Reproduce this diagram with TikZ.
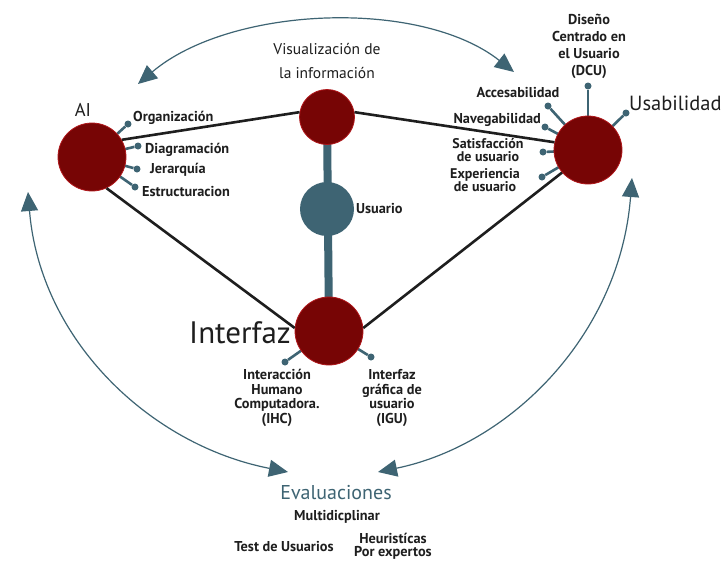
\documentclass[tikz,border=0pt]{standalone}
\usepackage{fontspec}
\setmainfont{PT Sans}
\usetikzlibrary{arrows.meta}
\definecolor{dred}{HTML}{770505}
\definecolor{redge}{HTML}{B0161A}
\definecolor{teal}{HTML}{3E6473}
\definecolor{ink}{HTML}{1E1E1E}
\tikzset{
  hub/.style={circle,fill=dred,draw=redge,line width=0.8pt,minimum size=#1,inner sep=0pt},
  userhub/.style={circle,fill=teal,minimum size=54pt,inner sep=0pt},
  pin/.style={circle,fill=teal,minimum size=7pt,inner sep=0pt},
  spoke/.style={teal,line width=2.6pt},
  link/.style={ink,line width=2.6pt},
  curvearrow/.style={teal,line width=1.2pt,{Triangle[length=19pt,width=17pt]}-{Triangle[length=19pt,width=17pt]}},
  lbl/.style={text=ink,inner sep=0pt,font=\bfseries\fontsize{14.3}{14}\selectfont},
  lblc/.style={lbl,align=center},
  big/.style={text=ink,inner sep=0pt,align=center},
}
\begin{document}
\begin{tikzpicture}[x=1pt,y=-1pt]
\useasboundingbox[fill=white] (0,0) rectangle (724,563);
% hubs (positions)
\coordinate (cAI) at (92,157);
\coordinate (cVis) at (327,117);
\coordinate (cUsu) at (327,209);
\coordinate (cInt) at (329,331);
\coordinate (cUsab) at (588,150);
% pins
\node[pin] (pOrg) at (128,124) {};
\node[pin] (pDia) at (138,146) {};
\node[pin] (pJer) at (137,169) {};
\node[pin] (pEst) at (135,187) {};
\node[pin] (pDCU) at (588,86) {};
\node[pin] (pAcc) at (548,106) {};
\node[pin] (pUsl) at (626,113) {};
\node[pin] (pNav) at (545,127) {};
\node[pin] (pSat) at (543,152) {};
\node[pin] (pExp) at (542,177) {};
\node[pin] (pIHC) at (285,362) {};
\node[pin] (pIGU) at (371,357) {};
% spokes drawn under circles
\foreach \p in {pOrg,pDia,pJer,pEst} \draw[spoke] (cAI) -- (\p);
\foreach \p in {pDCU,pAcc,pUsl,pNav,pSat,pExp} \draw[spoke] (cUsab) -- (\p);
\foreach \p in {pIHC,pIGU} \draw[spoke] (cInt) -- (\p);
\draw[teal,line width=8pt] (cVis) -- (cInt);
% circles
\node[hub=68pt] (AI) at (cAI) {};
\node[hub=55pt] (Vis) at (cVis) {};
\node[userhub] (Usu) at (cUsu) {};
\node[hub=68pt] (Int) at (cInt) {};
\node[hub=68pt] (Usab) at (cUsab) {};
% black links
\draw[link] (AI.30) -- (Vis.170);
\draw[link] (Vis.10) -- (Usab.167);
\draw[link] (AI.-65) -- (Int.175);
\draw[link] (Usab.-139) -- (Int.5);
% curved arrows
\coordinate (aTL) at (138,84);
\coordinate (aTR) at (514,72);
\coordinate (aLT) at (28,192);
\coordinate (aLB) at (288,472);
\coordinate (aRT) at (632,178);
\coordinate (aRB) at (378,472);
\draw[curvearrow] (aTL) .. controls (230,6) and (420,-2) .. (aTR);
\draw[curvearrow] (aLT) .. controls (40,340) and (150,445) .. (aLB);
\draw[curvearrow] (aRT) .. controls (620,335) and (510,445) .. (aRB);
% labels
\node[big,font=\fontsize{18.5}{18}\selectfont] (tAI) at (83,110) {AI};
\node[big,font=\fontsize{15.5}{24}\selectfont] (tVis) at (327,61) {Visualización de\\la información};
\node[big,font=\fontsize{20.5}{20}\selectfont,anchor=west] (tUsab) at (629,103) {Usabilidad};
\node[lbl,anchor=west] (tUsu) at (356,209) {Usuario};
\node[big,font=\fontsize{31}{31}\selectfont,anchor=east] (tInt) at (291,333) {Interfaz};
\node[lbl,anchor=west] (tOrg) at (133,118) {Organización};
\node[lbl,anchor=west] (tDia) at (145,150) {Diagramación};
\node[lbl,anchor=west] (tJer) at (150,170) {Jerarquía};
\node[lbl,anchor=west] (tEst) at (142,192) {Estructuracion};
\node[lbl] (tAcc) at (518,93) {Accesabilidad};
\node[lbl,anchor=east] (tNav) at (541,120) {Navegabilidad};
\node[lblc,font=\bfseries\fontsize{14}{13}\selectfont] (tSat) at (488,150) {Satisfacción\\de usuario};
\node[lblc,font=\bfseries\fontsize{14}{13}\selectfont] (tExp) at (485,180) {Experiencia\\de usuario};
\node[lblc,font=\bfseries\fontsize{14.3}{17}\selectfont] (tDCU) at (589,46) {Diseño\\Centrado en\\el Usuario\\(DCU)};
\node[lblc,font=\bfseries\fontsize{14.3}{14.5}\selectfont] (tIHC) at (277,398) {Interacción\\Humano\\Computadora.\\(IHC)};
\node[lblc,font=\bfseries\fontsize{14.3}{14.5}\selectfont] (tIGU) at (392,398) {Interfaz\\gráfica de\\usuario\\(IGU)};
\node[big,text=teal,font=\fontsize{20}{20}\selectfont] (tEva) at (336,493) {Evaluaciones};
\node[lbl] (tMul) at (337,517) {Multidicplinar};
\node[lbl] (tTest) at (284,547) {Test de Usuarios};
\node[lblc,font=\bfseries\fontsize{14.3}{13}\selectfont] (tHeu) at (393,546) {Heuristícas\\Por expertos};
\end{tikzpicture}
\end{document}
